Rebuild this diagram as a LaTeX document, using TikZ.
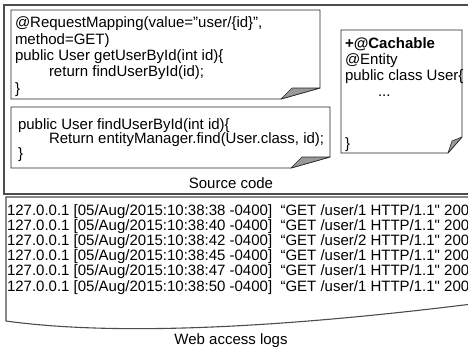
\documentclass[tikz,border=0pt]{standalone}
\usepackage{fontspec}
\newfontfamily\lsans{Liberation Sans}
\begin{document}
\begin{tikzpicture}[x=1pt,y=-1pt,
  txt/.style={inner sep=0pt,outer sep=0pt,anchor=base west,font=\lsans\fontsize{15}{16}\selectfont},
  ctxt/.style={inner sep=0pt,outer sep=0pt,anchor=base,font=\lsans\fontsize{15}{16}\selectfont},
  frame/.style={draw=black!70,line width=1.1pt},
  note/.style={draw=black!85,line width=0.8pt,fill=white},
  fold/.style={draw=black!85,line width=0.6pt,fill=black!40,line join=round}]
\useasboundingbox (0,0) rectangle (468,348);
\clip (0,0) rectangle (468,348);
% source code frame
\draw[frame] (4,5) rectangle (480,194);
% note 1
\draw[note] (11,10) -- (320,10) -- (320,88) -- (281,99) -- (11,99) -- cycle;
\draw[fold] (281,99) -- (292,88) -- (320,88) -- cycle;
% note 2
\draw[note] (11,107) -- (330,107) -- (330,157) -- (291,168) -- (11,168) -- cycle;
\draw[fold] (291,168) -- (302,157) -- (330,157) -- cycle;
% note 3
\draw[note] (341,30) -- (462,30) -- (462,137) -- (448,153) -- (341,153) -- cycle;
\draw[fold] (448,153) -- (452,141) -- (462,137) -- cycle;
% note 1 text
\node[txt] (n1a) at (15,27.7) {@RequestMapping(value=”user/\{id\}”,};
\node[txt] (n1b) at (15,44) {method=GET)};
\node[txt] (n1c) at (15,60.3) {public User getUserById(int id)\{};
\node[txt] (n1d) at (49,76.6) {return findUserById(id);};
\node[txt] (n1e) at (15,93) {\}};
% note 2 text
\node[txt] (n2a) at (18,129) {public User findUserById(int id)\{};
\node[txt] (n2b) at (49,143.5) {Return entityManager.find(User.class, id);};
\node[txt] (n2c) at (18,158) {\}};
% note 3 text
\node[txt] (n3a) at (345,48) {\bfseries +@Cachable};
\node[txt] (n3b) at (345,64) {@Entity};
\node[txt] (n3c) at (345,80) {public class User\{};
\node[txt] (n3d) at (378,96) {...};
\node[txt] (n3e) at (345,148) {\}};
\node[ctxt] (src) at (231,188) {Source code};
% log box
\draw[frame] (480,197) -- (6,197) -- (6,321) .. controls (100,334) and (250,332) .. (480,303) -- cycle;
\foreach \t [count=\i] in {38,40,42,45,47,50}{
  \pgfmathsetmacro{\yy}{215+(\i-1)*15.2}
  \ifnum\i=3 \def\u{2}\else\def\u{1}\fi
  \node[txt] (log\i) at (7,\yy) {127.0.0.1 [05/Aug/2015:10:38:\t\ -0400]\ \ “GET /user/\u\ HTTP/1.1" 200};
}
\node[ctxt] (web) at (231,344) {Web access logs};
\end{tikzpicture}
\end{document}
